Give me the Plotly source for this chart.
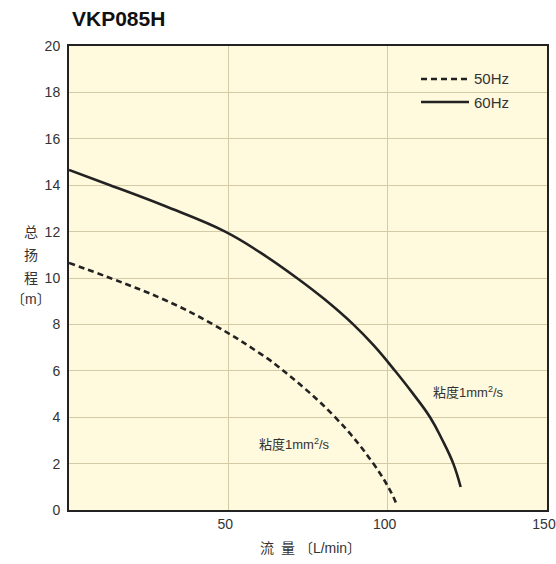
import plotly.graph_objects as go

# 60Hz curve (flow L/min, head m)
flow_60 = [0, 12.9, 30.1, 49.0, 60.2, 71.5, 80.3, 89.2, 95.7, 102.3, 107.7, 113.3, 117.0, 120.6, 122.9]
head_60 = [14.66, 14.0, 13.1, 12.0, 11.08, 10.0, 9.07, 8.0, 7.08, 6.0, 5.06, 4.0, 3.06, 2.0, 0.99]
# 50Hz curve
flow_50 = [0, 12.9, 30.1, 45.2, 59.9, 67.3, 83.5, 95.5, 101.0, 102.6]
head_50 = [10.65, 10.0, 9.05, 8.0, 6.75, 6.0, 4.0, 2.0, 0.78, 0.3]

x_ticks = [50, 100, 150]
y_ticks = list(range(0, 21, 2))

title_text = "VKP085H"
visc_label = "粘度1mm<sup>2</sup>/s"

BG = "#FFF9DE"
GRID = "#D4CAA6"
INK = "#222222"
FONT = "Liberation Sans, Arial, Noto Sans CJK SC, sans-serif"

W, H = 556, 564
L, T, R, B = 69, 46, 9, 54
PW, PH = W - L - R, H - T - B

fig = go.Figure()
fig.add_trace(go.Scatter(x=flow_50, y=head_50, mode="lines", name="50Hz",
                         line=dict(color=INK, width=2.6, dash="6px,4px", shape="spline", smoothing=1.2),
                         showlegend=False, hoverinfo="skip"))
fig.add_trace(go.Scatter(x=flow_60, y=head_60, mode="lines", name="60Hz",
                         line=dict(color=INK, width=2.6, shape="spline", smoothing=1.2),
                         showlegend=False, hoverinfo="skip"))

fig.update_layout(
    width=W, height=H,
    margin=dict(l=L, r=R, t=T, b=B, autoexpand=False),
    paper_bgcolor="white", plot_bgcolor=BG,
    font=dict(family=FONT, size=14, color="#333333"),
    showlegend=False,
)
fig.update_xaxes(range=[0, 150], tickvals=x_ticks, showgrid=True, gridcolor=GRID, gridwidth=1.2,
                 showline=True, linecolor=INK, linewidth=2, mirror=True, zeroline=False,
                 ticks="", tickfont=dict(size=14, color="#333"), automargin=False,
                 ticklabeloverflow="allow", ticklabelshift=-3)
fig.update_yaxes(range=[0, 20], tickvals=y_ticks, showgrid=True, gridcolor=GRID, gridwidth=1.2,
                 showline=True, linecolor=INK, linewidth=2, mirror=True, zeroline=False,
                 ticks="", tickfont=dict(size=14, color="#333"), ticklabelstandoff=4,
                 automargin=False, ticklabeloverflow="allow")

# screen-pixel helpers (reference image coordinates -> paper coords)
def px(v):
    return (v - L) / PW
def py(v):
    return (H - B - v) / PH

# title
fig.add_annotation(text="<b>" + title_text + "</b>", xref="paper", yref="paper", x=px(70), y=py(18),
                   xanchor="left", yanchor="middle", showarrow=False,
                   font=dict(size=21, color="#111", family="Liberation Sans, Arial, sans-serif"))

# axis titles
fig.add_annotation(text="流\u2002量 〔L/min〕", xref="paper", yref="paper", x=px(310), y=py(548),
                   xanchor="center", yanchor="middle", showarrow=False,
                   font=dict(size=14, color="#333"))
for ch, pyv in [("总", 232), ("扬", 255), ("程", 278), ("〔m〕", 299)]:
    fig.add_annotation(text=ch, xref="paper", yref="paper", x=px(31),
                       y=py(pyv), xanchor="center", yanchor="middle", showarrow=False,
                       font=dict(size=14, color="#333"))

# viscosity labels
fig.add_annotation(text=visc_label, xref="paper", yref="paper", x=px(257), y=py(444),
                   xanchor="left", yanchor="middle", showarrow=False, font=dict(size=13, color="#333"))
fig.add_annotation(text=visc_label, xref="paper", yref="paper", x=px(431), y=py(392),
                   xanchor="left", yanchor="middle", showarrow=False, font=dict(size=13, color="#333"))

# legend (manual)
fig.add_shape(type="rect", xref="paper", yref="paper", x0=px(414), x1=px(516), y0=py(114), y1=py(66),
              fillcolor=BG, line=dict(width=0), layer="between")
fig.add_shape(type="line", xref="paper", yref="paper", x0=px(421), x1=px(469), y0=py(79), y1=py(79),
              line=dict(color=INK, width=2.6, dash="6px,4px"))
fig.add_shape(type="line", xref="paper", yref="paper", x0=px(421), x1=px(469), y0=py(102), y1=py(102),
              line=dict(color=INK, width=2.6))
for lab, yy in [("50Hz", 79), ("60Hz", 102)]:
    fig.add_annotation(text=lab, xref="paper", yref="paper", x=px(472), y=py(yy), xanchor="left",
                       yanchor="middle", showarrow=False, font=dict(size=15, color="#333"))

# remove the default 8px page margin so the figure sits at the window corner
fig.write_html("out.html", config={"displayModeBar": False},
               post_script="document.body.style.margin='0';")
